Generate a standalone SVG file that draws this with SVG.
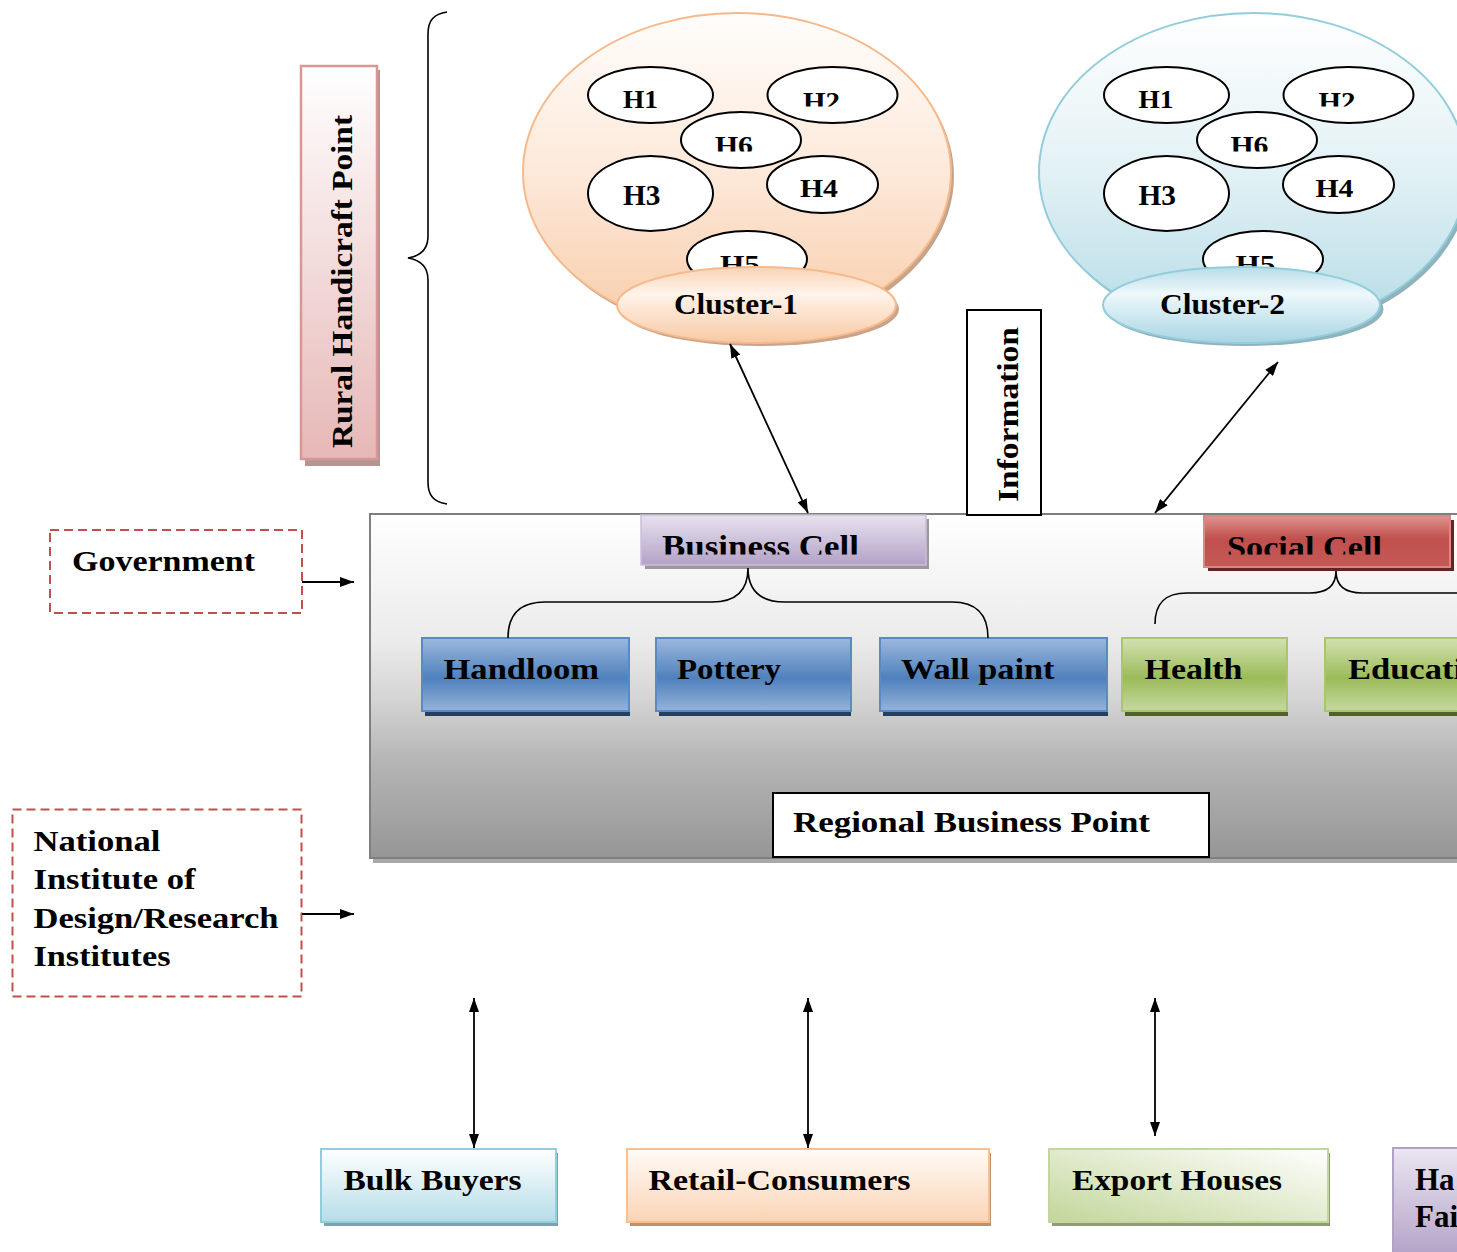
<svg xmlns="http://www.w3.org/2000/svg" width="1457" height="1252" viewBox="0 0 1457 1252">
<style>
.t{font-family:'Liberation Serif','Times New Roman',serif;font-weight:700;fill:#000}
.h{fill:#fff;stroke:#000;stroke-width:2}
.con{stroke:#000;stroke-width:1.8;fill:none}
.brace{stroke:#000;stroke-width:1.6;fill:none}
.dash{fill:#fff;stroke:#c0504d;stroke-width:2;stroke-dasharray:9 5}
</style>
<defs>
<marker id="ah" viewBox="0 0 14 10" refX="14" refY="5" markerWidth="14" markerHeight="10" markerUnits="userSpaceOnUse" orient="auto-start-reverse"><path d="M0,0 L14,5 L0,10 z" fill="#000"/></marker>
<linearGradient id="gPeach" x1="0" y1="0" x2="0" y2="1"><stop offset="0" stop-color="#fffdfb"/><stop offset="0.5" stop-color="#fde9da"/><stop offset="1" stop-color="#f8cca9"/></linearGradient>
<linearGradient id="gPeachL" x1="0" y1="0" x2="0" y2="1"><stop offset="0" stop-color="#f9d3b5"/><stop offset="0.35" stop-color="#fff3ea"/><stop offset="1" stop-color="#f8c9a3"/></linearGradient>
<linearGradient id="gBlue" x1="0" y1="0" x2="0" y2="1"><stop offset="0" stop-color="#ffffff"/><stop offset="0.5" stop-color="#e2f1f5"/><stop offset="1" stop-color="#b5dbe6"/></linearGradient>
<linearGradient id="gBlueL" x1="0" y1="0" x2="0" y2="1"><stop offset="0" stop-color="#b7dde8"/><stop offset="0.35" stop-color="#eef8fb"/><stop offset="1" stop-color="#a9d5e2"/></linearGradient>
<linearGradient id="gPink" x1="0" y1="0" x2="0" y2="1"><stop offset="0" stop-color="#ffffff"/><stop offset="1" stop-color="#e6b8b7"/></linearGradient>
<linearGradient id="gGrey" x1="0" y1="0" x2="0" y2="1"><stop offset="0" stop-color="#ffffff"/><stop offset="0.37" stop-color="#ebebeb"/><stop offset="0.54" stop-color="#d4d4d4"/><stop offset="0.72" stop-color="#b5b5b5"/><stop offset="1" stop-color="#969696"/></linearGradient>
<linearGradient id="gPurple" x1="0" y1="0" x2="0" y2="1"><stop offset="0" stop-color="#e8e2ef"/><stop offset="1" stop-color="#b3a2c7"/></linearGradient>
<linearGradient id="gRed" x1="0" y1="0" x2="0" y2="1"><stop offset="0" stop-color="#de9290"/><stop offset="0.45" stop-color="#c0504d"/><stop offset="1" stop-color="#c55956"/></linearGradient>
<linearGradient id="gBtnB" x1="0" y1="0" x2="0" y2="1"><stop offset="0" stop-color="#9db8dd"/><stop offset="0.55" stop-color="#4f81bd"/><stop offset="1" stop-color="#95b3d9"/></linearGradient>
<linearGradient id="gBtnG" x1="0" y1="0" x2="0" y2="1"><stop offset="0" stop-color="#d2e2b2"/><stop offset="0.55" stop-color="#9bbb59"/><stop offset="1" stop-color="#c6d9a0"/></linearGradient>
<linearGradient id="gBulk" x1="0" y1="0" x2="0" y2="1"><stop offset="0" stop-color="#ffffff"/><stop offset="1" stop-color="#b6dde8"/></linearGradient>
<linearGradient id="gRetail" x1="0" y1="0" x2="0" y2="1"><stop offset="0" stop-color="#fffbf8"/><stop offset="1" stop-color="#fbd4b4"/></linearGradient>
<linearGradient id="gExport" x1="1" y1="0" x2="0" y2="1"><stop offset="0" stop-color="#ffffff"/><stop offset="1" stop-color="#c3d69b"/></linearGradient>
<linearGradient id="gHa" x1="0" y1="0" x2="0" y2="1"><stop offset="0" stop-color="#ebe6f1"/><stop offset="1" stop-color="#b2a1c7"/></linearGradient>
<clipPath id="clipH2"><rect x="0" y="0" width="1457" height="106.5"/></clipPath>
<clipPath id="clipH6"><rect x="0" y="0" width="1457" height="151.5"/></clipPath>
<clipPath id="clipCell"><rect x="0" y="0" width="1457" height="554.5"/></clipPath>
</defs>

<rect width="1457" height="1252" fill="#fff"/>

<!-- Regional business point container -->
<g id="regional">
<rect x="373" y="518" width="1100" height="345" fill="#a8a8a8"/>
<rect x="370" y="514" width="1100" height="344" fill="url(#gGrey)" stroke="#7f7f7f" stroke-width="2"/>
<rect x="773" y="793" width="436" height="64" fill="#fff" stroke="#000" stroke-width="2"/>
<text class="t" x="793" y="832" font-size="30" textLength="357" lengthAdjust="spacingAndGlyphs">Regional Business Point</text>
</g>

<!-- Rural Handicraft Point -->
<g id="rural">
<rect x="305" y="70" width="75" height="396" fill="#b39594"/>
<rect x="301" y="66" width="76" height="393" fill="url(#gPink)" stroke="#d99694" stroke-width="2.5"/>
<text class="t" font-size="30" transform="translate(352,448) rotate(-90)" textLength="333" lengthAdjust="spacingAndGlyphs">Rural Handicraft Point</text>
</g>

<!-- Cluster 1 -->
<g id="cluster1">
<ellipse cx="740" cy="176" rx="214" ry="159" fill="#c4a58c"/>
<ellipse cx="737" cy="172" rx="214" ry="159" fill="url(#gPeach)" stroke="#f5b98c" stroke-width="2"/>
<g id="c1h1"><ellipse class="h" cx="650.5" cy="95" rx="62.5" ry="28"/><text class="t" x="623" y="108" font-size="26" textLength="35" lengthAdjust="spacingAndGlyphs">H1</text></g>
<g id="c1h2"><ellipse class="h" cx="832.5" cy="95" rx="65" ry="28"/><text class="t" x="803" y="110" font-size="26" textLength="37" lengthAdjust="spacingAndGlyphs" clip-path="url(#clipH2)">H2</text></g>
<g id="c1h3"><ellipse class="h" cx="650.5" cy="193.5" rx="62.5" ry="37.5"/><text class="t" x="623" y="205" font-size="30" textLength="37.5" lengthAdjust="spacingAndGlyphs">H3</text></g>
<g id="c1h4"><ellipse class="h" cx="822.5" cy="184.5" rx="55.5" ry="28.5"/><text class="t" x="800" y="197" font-size="26" textLength="38" lengthAdjust="spacingAndGlyphs">H4</text></g>
<g id="c1h5"><ellipse class="h" cx="747" cy="259" rx="60" ry="28"/><text class="t" x="720" y="273" font-size="26" textLength="40" lengthAdjust="spacingAndGlyphs">H5</text></g>
<g id="c1h6"><ellipse class="h" cx="741" cy="140" rx="60" ry="28"/><text class="t" x="715" y="154" font-size="26" textLength="38" lengthAdjust="spacingAndGlyphs" clip-path="url(#clipH6)">H6</text></g>
<ellipse cx="760" cy="309" rx="139" ry="37" fill="#c9a48a"/>
<ellipse cx="756.5" cy="305" rx="139.5" ry="38" fill="url(#gPeachL)" stroke="#f5b98c" stroke-width="2"/>
<text class="t" x="674" y="314" font-size="30" textLength="124" lengthAdjust="spacingAndGlyphs">Cluster-1</text>
</g>

<!-- Cluster 2 -->
<g id="cluster2">
<ellipse cx="1256" cy="176" rx="214" ry="159" fill="#8fb3bd"/>
<ellipse cx="1253" cy="172" rx="214" ry="159" fill="url(#gBlue)" stroke="#92cddc" stroke-width="2"/>
<g id="c2h1"><ellipse class="h" cx="1166.5" cy="95" rx="62.5" ry="28"/><text class="t" x="1138.5" y="108" font-size="26" textLength="35" lengthAdjust="spacingAndGlyphs">H1</text></g>
<g id="c2h2"><ellipse class="h" cx="1348.5" cy="95" rx="65" ry="28"/><text class="t" x="1318.5" y="110" font-size="26" textLength="37" lengthAdjust="spacingAndGlyphs" clip-path="url(#clipH2)">H2</text></g>
<g id="c2h3"><ellipse class="h" cx="1166.5" cy="193.5" rx="62.5" ry="37.5"/><text class="t" x="1138.5" y="205" font-size="30" textLength="37.5" lengthAdjust="spacingAndGlyphs">H3</text></g>
<g id="c2h4"><ellipse class="h" cx="1338.5" cy="184.5" rx="55.5" ry="28.5"/><text class="t" x="1315.5" y="197" font-size="26" textLength="38" lengthAdjust="spacingAndGlyphs">H4</text></g>
<g id="c2h5"><ellipse class="h" cx="1263" cy="259" rx="60" ry="28"/><text class="t" x="1235.5" y="273" font-size="26" textLength="40" lengthAdjust="spacingAndGlyphs">H5</text></g>
<g id="c2h6"><ellipse class="h" cx="1257" cy="140" rx="60" ry="28"/><text class="t" x="1230.5" y="154" font-size="26" textLength="38" lengthAdjust="spacingAndGlyphs" clip-path="url(#clipH6)">H6</text></g>
<ellipse cx="1245" cy="309" rx="138.5" ry="37" fill="#8fb3bd"/>
<ellipse cx="1241.5" cy="305" rx="138.5" ry="38" fill="url(#gBlueL)" stroke="#92cddc" stroke-width="2"/>
<text class="t" x="1160" y="314" font-size="30" textLength="125" lengthAdjust="spacingAndGlyphs">Cluster-2</text>
</g>

<!-- Information -->
<g id="information">
<rect x="967" y="310" width="74" height="205" fill="#fff" stroke="#000" stroke-width="2"/>
<text class="t" font-size="30" transform="translate(1018,502) rotate(-90)" textLength="175" lengthAdjust="spacingAndGlyphs">Information</text>
</g>

<!-- Business Cell -->
<g id="business-cell">
<rect x="645" y="519" width="284" height="50" fill="#9a9a9a"/>
<rect x="641" y="515" width="285" height="50" fill="url(#gPurple)" stroke="#cbbfdb" stroke-width="1.5"/>
<text class="t" x="662" y="557" font-size="32" textLength="197" lengthAdjust="spacingAndGlyphs" clip-path="url(#clipCell)">Business Cell</text>
</g>

<!-- Social Cell -->
<g id="social-cell">
<rect x="1208" y="520" width="246" height="51" fill="#632523"/>
<rect x="1204" y="516" width="246" height="51" fill="url(#gRed)" stroke="#d98886" stroke-width="2"/>
<text class="t" x="1227" y="558" font-size="32" textLength="155" lengthAdjust="spacingAndGlyphs" clip-path="url(#clipCell)">Social Cell</text>
</g>

<!-- Buttons -->
<g id="handloom">
<rect x="425" y="642" width="205" height="74" fill="#243f60"/>
<rect x="422" y="638" width="207" height="73" fill="url(#gBtnB)" stroke="#5a8ac6" stroke-width="2"/>
<text class="t" x="443.5" y="679" font-size="30" textLength="155.5" lengthAdjust="spacingAndGlyphs">Handloom</text>
</g>
<g id="pottery">
<rect x="659" y="642" width="192" height="74" fill="#243f60"/>
<rect x="656" y="638" width="195" height="73" fill="url(#gBtnB)" stroke="#5a8ac6" stroke-width="2"/>
<text class="t" x="677" y="679" font-size="30" textLength="104" lengthAdjust="spacingAndGlyphs">Pottery</text>
</g>
<g id="wallpaint">
<rect x="883" y="642" width="225" height="74" fill="#243f60"/>
<rect x="880" y="638" width="227" height="73" fill="url(#gBtnB)" stroke="#5a8ac6" stroke-width="2"/>
<text class="t" x="901" y="679" font-size="30" textLength="153.5" lengthAdjust="spacingAndGlyphs">Wall paint</text>
</g>
<g id="health">
<rect x="1125" y="642" width="163" height="74" fill="#4f6228"/>
<rect x="1122" y="638" width="165" height="73" fill="url(#gBtnG)" stroke="#a9c66e" stroke-width="2"/>
<text class="t" x="1144.5" y="679" font-size="30" textLength="98" lengthAdjust="spacingAndGlyphs">Health</text>
</g>
<g id="education">
<rect x="1329" y="642" width="140" height="74" fill="#4f6228"/>
<rect x="1325" y="638" width="140" height="73" fill="url(#gBtnG)" stroke="#a9c66e" stroke-width="2"/>
<text class="t" x="1348" y="679" font-size="30" textLength="115" lengthAdjust="spacingAndGlyphs">Educati</text>
</g>

<!-- Government / Institutes -->
<g id="government">
<rect class="dash" x="50" y="530" width="252" height="83"/>
<text class="t" x="72" y="571" font-size="30" textLength="183" lengthAdjust="spacingAndGlyphs">Government</text>
</g>
<g id="institutes">
<rect class="dash" x="12.5" y="809.5" width="289" height="187"/>
<text class="t" x="33.5" y="851" font-size="30" textLength="127" lengthAdjust="spacingAndGlyphs">National</text>
<text class="t" x="33.5" y="889" font-size="30" textLength="162" lengthAdjust="spacingAndGlyphs">Institute of</text>
<text class="t" x="33.5" y="927.5" font-size="30" textLength="245" lengthAdjust="spacingAndGlyphs">Design/Research</text>
<text class="t" x="33.5" y="966" font-size="30" textLength="137" lengthAdjust="spacingAndGlyphs">Institutes</text>
</g>

<!-- Bottom boxes -->
<g id="bulk-buyers">
<rect x="324" y="1153" width="234" height="73" fill="#7fa1ab"/>
<rect x="321" y="1149" width="235" height="73" fill="url(#gBulk)" stroke="#92cddc" stroke-width="2"/>
<text class="t" x="343.5" y="1190" font-size="30" textLength="178" lengthAdjust="spacingAndGlyphs">Bulk Buyers</text>
</g>
<g id="retail-consumers">
<rect x="630" y="1153" width="361" height="73" fill="#b99272"/>
<rect x="627" y="1149" width="362" height="73" fill="url(#gRetail)" stroke="#fabf8f" stroke-width="2"/>
<text class="t" x="648.5" y="1190" font-size="30" textLength="262" lengthAdjust="spacingAndGlyphs">Retail-Consumers</text>
</g>
<g id="export-houses">
<rect x="1052" y="1153" width="278" height="73" fill="#8f9c78"/>
<rect x="1049" y="1149" width="279" height="73" fill="url(#gExport)" stroke="#c3d69b" stroke-width="2"/>
<text class="t" x="1072" y="1190" font-size="30" textLength="210" lengthAdjust="spacingAndGlyphs">Export Houses</text>
</g>
<g id="handicraft-fair">
<rect x="1393" y="1148" width="80" height="110" fill="url(#gHa)" stroke="#b2a1c7" stroke-width="2"/>
<text class="t" x="1415" y="1190" font-size="31">Ha</text>
<text class="t" x="1415" y="1227" font-size="31">Fai</text>
</g>

<!-- Connectors -->
<g id="connectors">
<path class="brace" d="M447,12 C434,14 428,20 428,34 L428,236 C428,250 420,256 408,258 C420,260 428,266 428,280 L428,482 C428,496 434,502 447,504"/>
<path class="brace" d="M508,638 C508,614 520,602 545,602 L712,602 C736,602 748,590 748,568 C748,590 760,602 785,602 L952,602 C976,602 988,614 988,638"/>
<path class="brace" d="M1155,624 C1155,603 1165,593 1187,593 L1310,593 C1328,593 1336,585 1336,571 C1336,585 1344,593 1362,593 L1460,593"/>
<line class="con" x1="730" y1="344" x2="808" y2="513" marker-start="url(#ah)" marker-end="url(#ah)"/>
<line class="con" x1="1155" y1="513" x2="1278" y2="362" marker-start="url(#ah)" marker-end="url(#ah)"/>
<line class="con" x1="302" y1="582" x2="354" y2="582" marker-end="url(#ah)"/>
<line class="con" x1="302" y1="914" x2="354" y2="914" marker-end="url(#ah)"/>
<line class="con" x1="474" y1="998" x2="474" y2="1148" marker-start="url(#ah)" marker-end="url(#ah)"/>
<line class="con" x1="808" y1="998" x2="808" y2="1148" marker-start="url(#ah)" marker-end="url(#ah)"/>
<line class="con" x1="1155" y1="998" x2="1155" y2="1136" marker-start="url(#ah)" marker-end="url(#ah)"/>
</g>
</svg>
